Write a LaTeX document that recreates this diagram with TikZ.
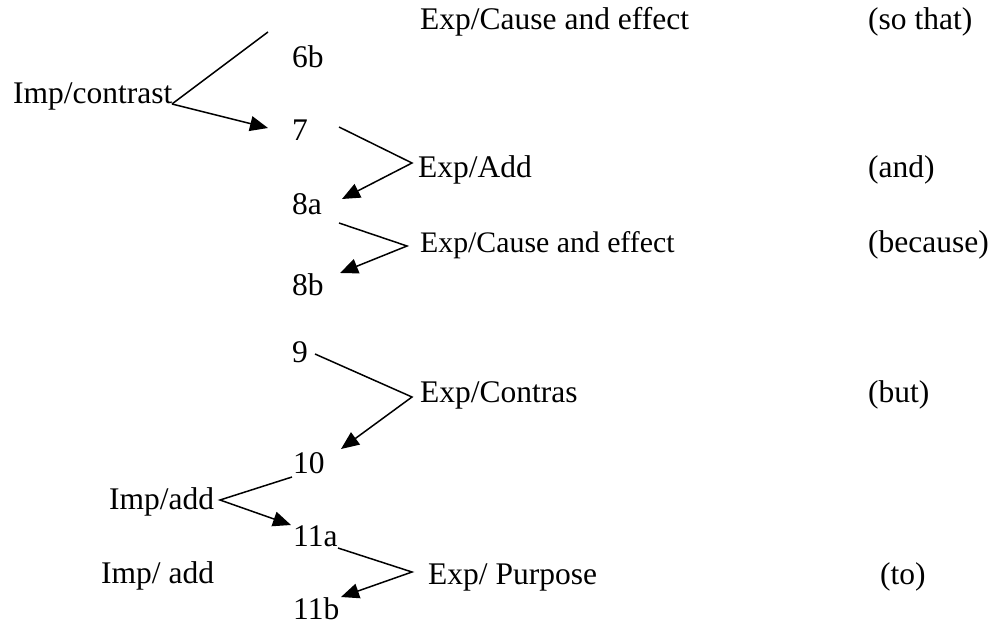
\documentclass[tikz,border=0pt]{standalone}
\usepackage{fontspec}
\setmainfont{Liberation Serif}
\usetikzlibrary{arrows.meta}
\begin{document}
\begin{tikzpicture}[x=1pt,y=-1pt,
  lbl/.style={anchor=base west,inner sep=0pt,font=\fontsize{31.5}{36}\selectfont},
  lblsmall/.style={lbl,font=\fontsize{29.8}{34}\selectfont},
  link/.style={line width=1.5pt},
  arr/.style={link,-{Triangle[length=18pt,width=15pt]}}]
\useasboundingbox (0,0) rectangle (995,628);
% clause labels
\node[lbl] (ce1) at (420,30) {Exp/Cause and effect};
\node[lbl] (sothat) at (868,30) {(so that)};
\node[lbl] (n6b) at (292,68) {6b};
\node[lbl] (imc) at (13,104) {Imp/contrast};
\node[lbl] (n7) at (292,141) {7};
\node[lbl] (add1) at (418,178) {Exp/Add};
\node[lbl] (and) at (868,178) {(and)};
\node[lbl] (n8a) at (292,215) {8a};
\node[lblsmall] (ce2) at (420,253) {Exp/Cause and effect};
\node[lbl] (because) at (868,253) {(because)};
\node[lbl] (n8b) at (292,295) {8b};
\node[lbl] (n9) at (292,362) {9};
\node[lbl] (contr) at (420,402) {Exp/Contras};
\node[lbl] (but) at (868,402) {(but)};
\node[lbl] (n10) at (293,473) {10};
\node[lbl] (impadd) at (109,509) {Imp/add};
\node[lbl] (n11a) at (293,546) {11a};
\node[lbl] (impadd2) at (101,583) {Imp/ add};
\node[lbl] (purp) at (428,584) {Exp/ Purpose};
\node[lbl] (to) at (880,584) {(to)};
\node[lbl] (n11b) at (293,619) {11b};
% branch points and line ends
\coordinate (vimc) at (172,104);
\coordinate (e6b) at (268,32);
\coordinate (t7) at (268,128);
\coordinate (s7) at (339,127);
\coordinate (v7) at (412,163);
\coordinate (t8a) at (342,199);
\coordinate (s8a) at (339,223);
\coordinate (v8a) at (407,246);
\coordinate (t8b) at (340,273);
\coordinate (s9) at (315,354);
\coordinate (v9) at (412,397);
\coordinate (t10) at (341,449);
\coordinate (s10) at (292,477);
\coordinate (vadd) at (220,500);
\coordinate (t11a) at (291,525);
\coordinate (s11a) at (338,548);
\coordinate (v11a) at (412,572);
\coordinate (t11b) at (341,597);
% connectors
\draw[link] (vimc) -- (e6b);
\draw[arr] (vimc) -- (t7);
\draw[arr] (s7) -- (v7) -- (t8a);
\draw[arr] (s8a) -- (v8a) -- (t8b);
\draw[arr] (s9) -- (v9) -- (t10);
\draw[arr] (s10) -- (vadd) -- (t11a);
\draw[arr] (s11a) -- (v11a) -- (t11b);
\end{tikzpicture}
\end{document}
